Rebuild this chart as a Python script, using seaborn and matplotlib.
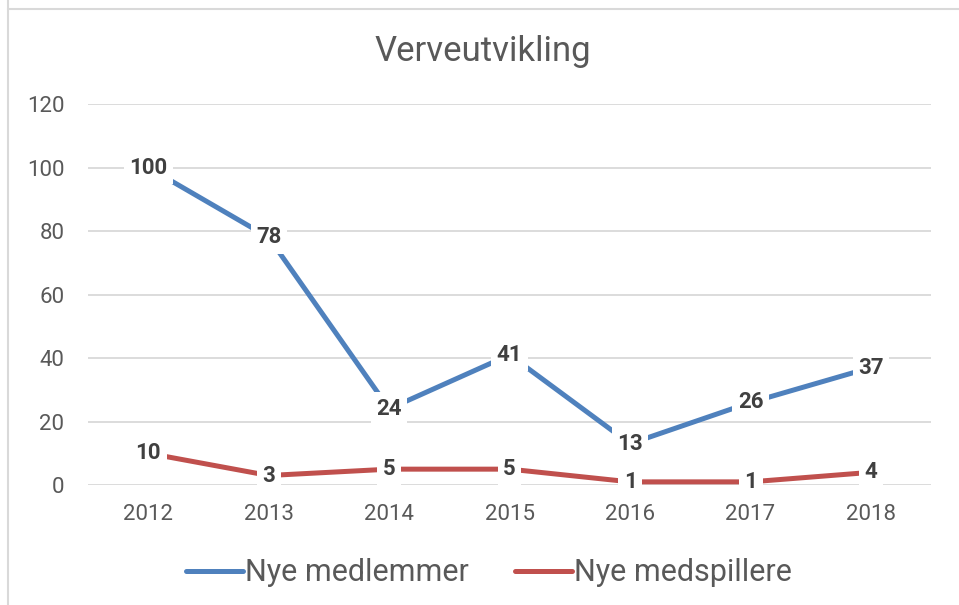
import numpy as np
import pandas as pd
import matplotlib.pyplot as plt
import seaborn as sns
from matplotlib.lines import Line2D

# ================= DATA =================
years = ["2012", "2013", "2014", "2015", "2016", "2017", "2018"]
nye_medlemmer = [100, 78, 24, 41, 13, 26, 37]
nye_medspillere = [10, 3, 5, 5, 1, 1, 4]
series_names = ["Nye medlemmer", "Nye medspillere"]
y_ticks = [0, 20, 40, 60, 80, 100, 120]

df = pd.DataFrame({
    "year": years * 2,
    "value": nye_medlemmer + nye_medspillere,
    "series": [series_names[0]] * len(years) + [series_names[1]] * len(years),
})

# ================= STYLE =================
sns.set_style("white")
plt.rcParams["font.family"] = ["Roboto", "DejaVu Sans"]

TEXT_GRAY = "#595959"
LABEL_GRAY = "#404040"
GRID_GRAY = "#D9D9D9"
palette = {series_names[0]: "#4F81BD", series_names[1]: "#C0504D"}

fig = plt.figure(figsize=(9.59, 6.05), dpi=100)
ax = fig.add_axes([0.0918, 0.1983, 0.8792, 0.6297])

sns.lineplot(data=df, x="year", y="value", hue="series", palette=palette,
             linewidth=3.6, sort=False, legend=False, ax=ax, zorder=3)

ax.set_xlim(-0.5, len(years) - 0.5)
ax.set_ylim(0, 120)
ax.set_yticks(y_ticks)
ax.set_yticklabels([str(t) for t in y_ticks])
ax.yaxis.grid(True, color=GRID_GRAY, linewidth=1.3, zorder=0)
ax.set_axisbelow(True)
for s in ax.spines.values():
    s.set_visible(False)
ax.tick_params(axis="both", length=0, labelsize=16, labelcolor=TEXT_GRAY)
ax.tick_params(axis="y", pad=17)
ax.tick_params(axis="x", pad=14)
ax.set_xlabel("")
ax.set_ylabel("")

# ================= DATA LABELS =================
for vals in (nye_medlemmer, nye_medspillere):
    for i, v in enumerate(vals):
        ax.text(i, v, str(v), ha="center", va="center", fontsize=16,
                fontweight="bold", color=LABEL_GRAY, zorder=5,
                bbox=dict(boxstyle="square,pad=0.25", fc="white", ec="none"))

# ================= TITLE / LEGEND =================
fig.text(0.503, 0.915, "Verveutvikling", ha="center", va="center",
         fontsize=25, color=TEXT_GRAY)

handles = [Line2D([0], [0], color=palette[n], linewidth=3.6,
                  solid_capstyle="round") for n in series_names]
fig.legend(handles, series_names, loc="center", ncol=2,
           bbox_to_anchor=(0.51, 0.053), frameon=False, fontsize=22,
           labelcolor=TEXT_GRAY, handlelength=1.85, handletextpad=0.08,
           columnspacing=1.5)

# chart frame (cropped screenshot border)
fig.add_artist(Line2D([8 / 959, 1], [1 - 9 / 605, 1 - 9 / 605],
                      color=GRID_GRAY, linewidth=1.5))
fig.add_artist(Line2D([8 / 959, 8 / 959], [0, 1],
                      color=GRID_GRAY, linewidth=1.5))

plt.savefig("out.png", dpi=100)
plt.close()
